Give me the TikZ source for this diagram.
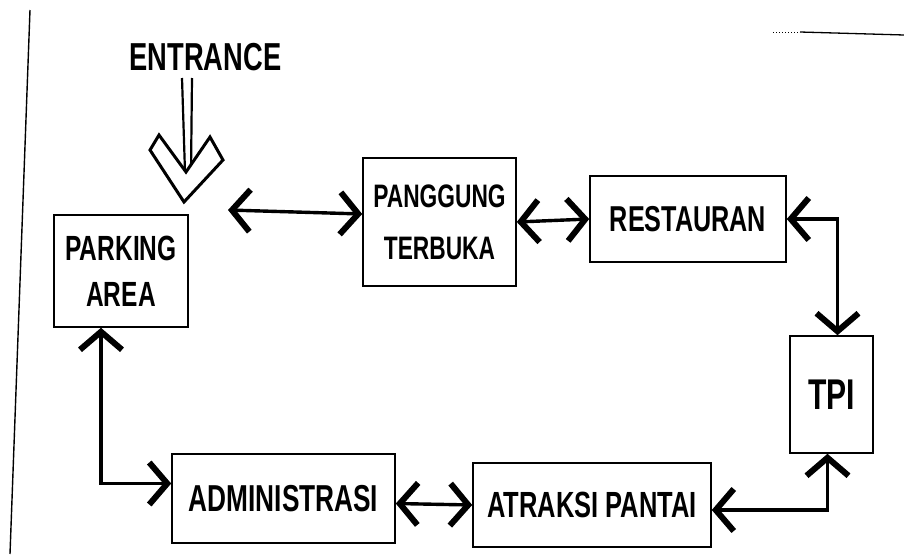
\documentclass[tikz,border=0pt]{standalone}
\usepackage{fontspec}
\newfontfamily\hand{Liberation Sans}[FakeStretch=0.7]
\usetikzlibrary{arrows.meta}
\begin{document}
\begin{tikzpicture}[x=1pt,y=-1pt,
  box/.style={draw, line width=1.6pt, inner sep=0pt, align=center},
  barb/.tip={Straight Barb[length=18pt,width=42pt,line width=6pt]},
  link/.style={line width=3.4pt, barb-barb},
  frame/.style={line width=1.4pt},
]
\useasboundingbox (0,0) rectangle (904,554);

% frame lines of the sheet
\draw[frame] (30,10) -- (10,554);
\draw[line width=1pt, dotted] (773,32) -- (800,32);
\draw[line width=1.3pt] (800,32) -- (904,35);

% entrance
\node[font=\hand\bfseries\fontsize{39}{46}\selectfont, inner sep=0pt] (entr) at (205.5,57) {ENTRANCE};
\draw[line width=2.2pt] (182,78) -- (185,172);
\draw[line width=2.2pt] (192,78) -- (191,172);
\draw[line width=3pt, line join=miter, fill=white] (150,150) -- (159,135) -- (186,172) -- (210,137) -- (223,160) -- (184,202) -- cycle;

% boxes
\node[box, minimum width=134pt, minimum height=112pt,
      font=\hand\bfseries\fontsize{35}{46}\selectfont] (park) at (121,271) {PARKING\\AREA};
\node[box, minimum width=153pt, minimum height=128pt,
      font=\hand\bfseries\fontsize{32.5}{52}\selectfont] (pang) at (439.5,222) {PANGGUNG\\TERBUKA};
\node[box, minimum width=196pt, minimum height=86pt,
      font=\hand\bfseries\fontsize{36}{46}\selectfont] (rest) at (688,219) {RESTAURAN};
\node[box, minimum width=83pt, minimum height=117pt,
      font=\hand\bfseries\fontsize{43}{50}\selectfont] (tpi) at (831.5,394.5) {TPI};
\node[box, minimum width=223pt, minimum height=89pt,
      font=\hand\bfseries\fontsize{37.5}{46}\selectfont] (adm) at (283.5,498.5) {ADMINISTRASI};
\node[box, minimum width=238pt, minimum height=84pt,
      font=\hand\bfseries\fontsize{36.4}{46}\selectfont] (atr) at (592,505) {ATRAKSI PANTAI};

% connectors
\coordinate (free) at (228,210);
\draw[link] (free) -- ([yshift=8pt]pang.west);
\draw[link] (pang.east) -- (rest.west);
\draw[link] (rest.east) -| ([xshift=6pt]tpi.north);
\draw[link] ([xshift=-4pt]tpi.south) |- ([yshift=-5pt]atr.east);
\draw[link] ([yshift=-5pt]adm.east) -- (atr.west);
\draw[link] ([xshift=-20pt]park.south) |- ([yshift=15pt]adm.west);
\end{tikzpicture}
\end{document}
